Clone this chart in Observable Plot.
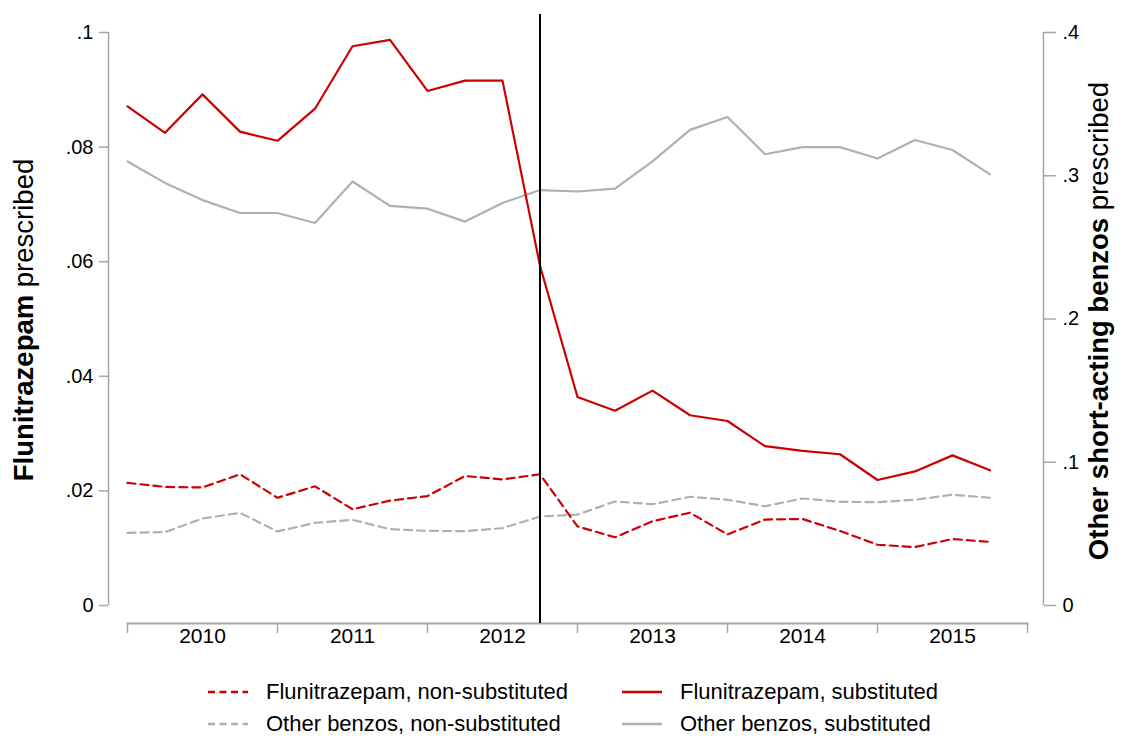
<!DOCTYPE html>
<html><head><meta charset="utf-8">
<script src="https://cdn.jsdelivr.net/npm/d3@7"></script>
<script src="https://cdn.jsdelivr.net/npm/@observablehq/plot@0.6"></script>
<style>
body{margin:0;background:#fff;font-family:"Liberation Sans",Arial,sans-serif;}
#wrap{position:relative;width:1131px;height:738px;}
.legend{position:absolute;left:208px;top:676px;display:grid;grid-template-columns:414px auto;}
.item{display:flex;align-items:center;height:32px;font-size:22px;color:#000;white-space:nowrap;}
.item svg{margin-right:18px;flex:none}
</style>
</head><body>
<div id="wrap"><div id="chart"></div><div class="legend" id="legend"></div></div>
<script>
const years = [2010, 2011, 2012, 2013, 2014, 2015];
const quarters = ["2010q1","2010q2","2010q3","2010q4","2011q1","2011q2","2011q3","2011q4",
  "2012q1","2012q2","2012q3","2012q4","2013q1","2013q2","2013q3","2013q4",
  "2014q1","2014q2","2014q3","2014q4","2015q1","2015q2","2015q3","2015q4"];
const reformQuarter = "2012q4";

// left axis (Flunitrazepam)
const fluniSub = [0.0871,0.0825,0.0892,0.0827,0.0811,0.0867,0.0976,0.0987,0.0898,0.0916,0.0916,0.0593,
  0.0364,0.0340,0.0375,0.0332,0.0322,0.0278,0.0270,0.0264,0.0219,0.0234,0.0262,0.0236];
const fluniNon = [0.0214,0.0207,0.0206,0.0229,0.0188,0.0208,0.0168,0.0183,0.0191,0.0226,0.0220,0.0229,
  0.0138,0.0119,0.0147,0.0162,0.0124,0.0150,0.0151,0.0130,0.0106,0.0102,0.0116,0.0111];
// right axis (Other short-acting benzos)
const otherSub = [0.310,0.295,0.283,0.274,0.274,0.267,0.296,0.279,0.277,0.268,0.281,0.290,
  0.289,0.291,0.310,0.332,0.341,0.315,0.320,0.320,0.312,0.325,0.318,0.301];
const otherNon = [0.0507,0.0512,0.0607,0.0647,0.0517,0.0577,0.0598,0.0533,0.0521,0.0519,0.0540,0.0621,
  0.0635,0.0726,0.0707,0.0759,0.0738,0.0693,0.0747,0.0724,0.0721,0.0738,0.0773,0.0752];

const leftTicks = [0, 0.02, 0.04, 0.06, 0.08, 0.1];
const rightTicks = [0, 0.1, 0.2, 0.3, 0.4];
const ratio = 4; // right max / left max

const RED = "#cc0000", GRAY = "#b0b0b0", AXIS = "#a6a6a6";
const DASH = "8,5";

const idx = q => quarters.indexOf(q);
const fmt = v => v === 0 ? "0" : d3.format(".2~f")(v).replace(/^0/, "");
const boundaries = years.map((y, k) => k * 4).concat([years.length * 4]);
const mids = years.map((y, k) => k * 4 + 2);

const plot = Plot.plot({
  width: 1131, height: 660,
  marginLeft: 127, marginRight: 104, marginTop: 14, marginBottom: 37,
  style: {fontFamily: "Liberation Sans, Arial, sans-serif", fontSize: "20px", background: "white", color: "black"},
  x: {domain: [0, quarters.length]},
  y: {domain: [0, 0.1], insetTop: 18, insetBottom: 18},
  marks: [
    Plot.frame({anchor: "bottom", stroke: AXIS, strokeWidth: 2}),
    // left axis
    Plot.ruleX([0], {y1: () => d3.min(leftTicks), y2: () => d3.max(leftTicks), dx: -19, stroke: AXIS, strokeWidth: 1.5}),
    Plot.axisY({anchor: "left", ticks: leftTicks, tickSize: 9, tickFormat: () => "", stroke: AXIS, strokeWidth: 1.5, dx: -19, label: null}),
    Plot.axisY({anchor: "left", ticks: leftTicks, tickSize: 0, tickPadding: 15, tickFormat: fmt, dx: -19, fontSize: 20, label: null}),
    // right axis
    Plot.ruleX([quarters.length], {y1: () => d3.min(rightTicks) / ratio, y2: () => d3.max(rightTicks) / ratio, dx: 16, stroke: AXIS, strokeWidth: 1.5}),
    Plot.axisY({anchor: "right", ticks: rightTicks.map(v => v / ratio), tickSize: 12, tickFormat: () => "", stroke: AXIS, strokeWidth: 1.5, dx: 16, label: null}),
    Plot.axisY({anchor: "right", ticks: rightTicks.map(v => v / ratio), tickSize: 0, tickPadding: 19, tickFormat: v => fmt(+(v * ratio).toFixed(3)), dx: 16, fontSize: 20, label: null}),
    // x axis
    Plot.axisX({ticks: boundaries, tickSize: 10, tickFormat: () => "", stroke: AXIS, strokeWidth: 1.5, label: null}),
    Plot.axisX({ticks: mids, tickSize: 0, tickPadding: 5, tickFormat: t => String(years[(t - 2) / 4]), fontSize: 21, label: null}),
    // series
    Plot.lineY(otherNon, {x: (d, i) => i, y: d => d / ratio, stroke: GRAY, strokeWidth: 2.2, strokeDasharray: DASH}),
    Plot.lineY(otherSub, {x: (d, i) => i, y: d => d / ratio, stroke: GRAY, strokeWidth: 2.2}),
    Plot.lineY(fluniNon, {x: (d, i) => i, y: d => d, stroke: RED, strokeWidth: 2.2, strokeDasharray: DASH}),
    Plot.lineY(fluniSub, {x: (d, i) => i, y: d => d, stroke: RED, strokeWidth: 2.2}),
    Plot.ruleX([idx(reformQuarter)], {stroke: "black", strokeWidth: 2})
  ]
});
document.getElementById("chart").appendChild(plot);

const svg = d3.select(plot);
function title(x, y, bold, rest) {
  const t = svg.append("text")
    .attr("transform", `translate(${x},${y}) rotate(-90)`)
    .attr("text-anchor", "middle")
    .attr("font-size", 27.5)
    .attr("fill", "black");
  t.append("tspan").attr("font-weight", "bold").text(bold);
  t.append("tspan").text(" " + rest);
}
title(33, 320, "Flunitrazepam", "prescribed");
title(1108, 321, "Other short-acting benzos", "prescribed");

const legendItems = [
  {label: "Flunitrazepam, non-substituted", color: RED, dash: "7,4.5"},
  {label: "Flunitrazepam, substituted", color: RED, dash: null},
  {label: "Other benzos, non-substituted", color: GRAY, dash: "7,4.5"},
  {label: "Other benzos, substituted", color: GRAY, dash: null}
];
const leg = d3.select("#legend");
legendItems.forEach(it => {
  const d = leg.append("div").attr("class", "item");
  const s = d.append("svg").attr("width", 40).attr("height", 4);
  s.append("line").attr("x1", 0).attr("x2", 40).attr("y1", 2).attr("y2", 2)
    .attr("stroke", it.color).attr("stroke-width", 2.5)
    .attr("stroke-dasharray", it.dash);
  d.append("span").text(it.label);
});
</script>
</body></html>
